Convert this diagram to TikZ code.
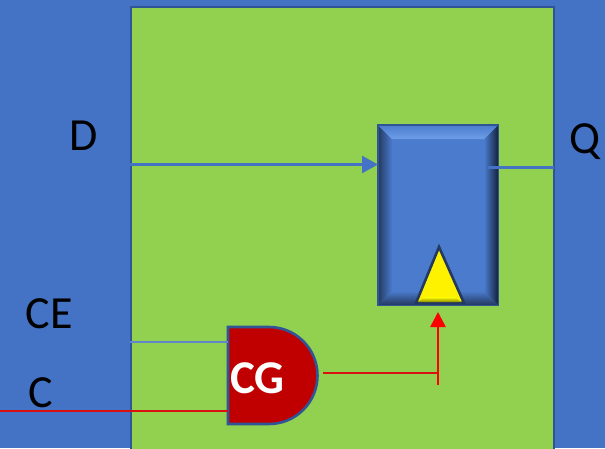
\documentclass[tikz,border=0pt]{standalone}
\usepackage{fontspec}
\setmainfont{Carlito}
\usetikzlibrary{arrows.meta}
\definecolor{bgblue}{HTML}{4472C4}
\definecolor{edgeblue}{HTML}{2F5597}
\definecolor{panelgreen}{HTML}{92D050}
\definecolor{faceblue}{HTML}{4A7BCD}
\definecolor{gatered}{HTML}{C00000}
\definecolor{wirered}{HTML}{D81010}
\definecolor{bevellight}{HTML}{6F9DE8}
\definecolor{beveldark}{HTML}{24395F}
\definecolor{bevelblack}{HTML}{16233F}
\tikzset{
  x=1pt,y=-1pt,
  label text/.style={font=\fontsize{46}{46}\selectfont,text=black,inner sep=0pt},
  wireblue/.style={draw=bgblue,line width=2.6pt},
  thinblue/.style={draw=bgblue!85!white,line width=1.6pt},
  thinred/.style={draw=wirered,line width=1.5pt},
  bluehead/.style={-{Triangle[length=16pt,width=17pt,fill=bgblue]}},
  redhead/.style={-{Triangle[length=15pt,width=15pt,fill=red]}},
}
\begin{document}
\begin{tikzpicture}
\useasboundingbox (0,0) rectangle (605,448);
\fill[bgblue] (0,0) rectangle (605,448);
\clip (0,0) rectangle (605,448);
% panel
\draw[edgeblue,line width=2.6pt,fill=panelgreen] (131,7) rectangle (554,470);
% flip-flop
\node[draw=none,fill=faceblue,minimum width=120pt,minimum height=180pt,inner sep=0pt,anchor=north west] (ff) at (378,125) {};
\shade[left color=beveldark,right color=faceblue] (378,125) -- (392,139) -- (392,291) -- (378,305) -- cycle;
\shade[left color=faceblue,right color=bevelblack] (498,125) -- (484,139) -- (484,291) -- (498,305) -- cycle;
\shade[top color=faceblue,bottom color=bevellight] (378,125) -- (498,125) -- (484,139) -- (392,139) -- cycle;
\shade[top color=faceblue,bottom color=beveldark] (392,291) -- (484,291) -- (498,305) -- (378,305) -- cycle;
\draw[edgeblue,line width=1.4pt] (ff.north west) rectangle (ff.south east);
% clock triangle
\draw[draw=beveldark,line width=2.6pt,fill=yellow,line join=miter] (439,247) -- (464,303) -- (416,303) -- cycle;
\shade[top color=yellow,bottom color=yellow!55!black] (424,297) -- (455,297) -- (461,302) -- (418,302) -- cycle;
% gate
\draw[edgeblue,line width=2.6pt,fill=gatered] (228,327) -- (269,327) arc[start angle=-90,delta angle=180,radius=48.5] -- (228,424) -- cycle;
\node[font=\bfseries\fontsize{47}{47}\selectfont,text=white,inner sep=0pt] (cg) at (257.5,378) {CG};
\coordinate (gate w) at (228,375);
\coordinate (gate e) at (323,373);
% labels
\node[label text] (d) at (84,136) {D};
\node[label text] (q) at (585,142) {Q};
\node[label text] (ce) at (49,314) {CE};
\node[label text] (c) at (41,393) {C};
% free ends
\coordinate (din) at (130,164.5);
\coordinate (qout) at (554,167.5);
\coordinate (qin) at (488,167.5);
\coordinate (cein) at (130,342);
\coordinate (cin) at (0,411);
\coordinate (rtop) at (438,312);
\coordinate (rbot) at (438,385);
\coordinate (rjoin) at (438,373);
% connectors
\draw[wireblue,bluehead] (din) -- (din -| ff.west);
\draw[wireblue] (qin) -- (qout);
\draw[thinblue] (cein) -- (cein -| gate w);
\draw[thinred] (cin) -- (cin -| gate w);
\draw[thinred] (gate e) -- (rjoin);
\draw[draw=red,line width=2.6pt,redhead] (rbot) -- (rtop);
\end{tikzpicture}
\end{document}
